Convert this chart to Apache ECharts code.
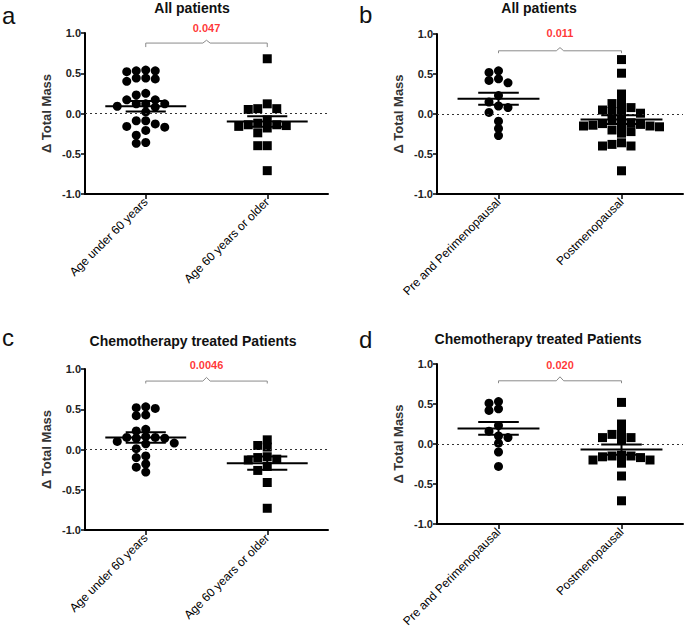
<!DOCTYPE html>
<html><head><meta charset="utf-8">
<script src="https://cdn.jsdelivr.net/npm/echarts@6/dist/echarts.min.js"></script>
<style>html,body{margin:0;padding:0;background:#fff}#c{width:685px;height:643px}</style>
</head><body><div id="c"></div>
<script>
// ---------- data ----------
const panelLetters = ['a', 'b', 'c', 'd'];
const panelTitles = ['All patients', 'All patients', 'Chemotherapy treated Patients', 'Chemotherapy treated Patients'];
const ageCategories = ['Age under 60 years', 'Age 60 years or older'];
const menoCategories = ['Pre and Perimenopausal', 'Postmenopausal'];
const pValues = ['0.047', '0.011', '0.0046', '0.020'];
const yTicks = [-1.0, -0.5, 0.0, 0.5, 1.0];

const aUnder60 = [0.54, 0.53, 0.53, 0.52, 0.44, 0.44, 0.43, 0.40, 0.25, 0.23, 0.17, 0.17, 0.12, 0.12, 0.12, 0.09, 0.08, 0.02, -0.09, -0.09, -0.13, -0.16, -0.17, -0.21, -0.27, -0.36, -0.37];
const aOver60 = [0.68, 0.12, 0.06, 0.06, 0.05, -0.08, -0.12, -0.14, -0.14, -0.15, -0.16, -0.18, -0.24, -0.40, -0.40, -0.71];
const bPre = [0.54, 0.52, 0.44, 0.42, 0.39, 0.23, 0.15, 0.10, 0.08, 0.02, -0.09, -0.18, -0.27];
const bPost = [0.68, 0.51, 0.25, 0.15, 0.13, 0.08, 0.05, 0.05, 0.03, 0.01, -0.05, -0.08, -0.11, -0.12, -0.13, -0.14, -0.14, -0.15, -0.15, -0.16, -0.20, -0.22, -0.24, -0.36, -0.38, -0.40, -0.40, -0.71];
const cUnder60 = [0.53, 0.52, 0.51, 0.43, 0.42, 0.25, 0.23, 0.16, 0.15, 0.15, 0.14, 0.14, 0.10, 0.08, 0.07, 0.01, -0.08, -0.10, -0.18, -0.22, -0.28];
const cOver60 = [0.12, 0.05, 0.03, -0.09, -0.10, -0.12, -0.13, -0.21, -0.26, -0.41, -0.73];
const dPre = [0.53, 0.51, 0.44, 0.42, 0.23, 0.16, 0.10, 0.08, 0.01, -0.10, -0.28];
const dPost = [0.52, 0.25, 0.15, 0.12, 0.08, 0.08, 0.05, -0.14, -0.15, -0.15, -0.16, -0.17, -0.20, -0.20, -0.24, -0.40, -0.71];

// mean and SEM: [group1, group2]
const meansA = [0.09, -0.10], semsA = [0.065, 0.065];
const meansB = [0.19, -0.07], semsB = [0.075, 0.055];
const meansC = [0.15, -0.17], semsC = [0.065, 0.083];
const meansD = [0.195, -0.07], semsD = [0.08, 0.065];

// ---------- layout (not data) ----------
const panels = [
  { groups: [aUnder60, aOver60], cats: ageCategories, means: meansA, sems: semsA,
    grid: { left: 85, top: 33, width: 243, height: 161 },
    letter: [2, 15], title: [192, 8], bracket: [0.875, 0.825, 0.91], pText: 1.065 },
  { groups: [bPre, bPost], cats: menoCategories, means: meansB, sems: semsB,
    grid: { left: 437, top: 34, width: 246, height: 160 },
    letter: [359, 14], title: [539, 8], bracket: [0.79, 0.76, 0.83], pText: 1.01 },
  { groups: [cUnder60, cOver60], cats: ageCategories, means: meansC, sems: semsC,
    grid: { left: 85, top: 369, width: 243, height: 161 },
    letter: [2, 337], title: [193, 341], bracket: [0.85, 0.82, 0.895], pText: 1.05 },
  { groups: [dPre, dPost], cats: menoCategories, means: meansD, sems: semsD,
    grid: { left: 437, top: 364, width: 246, height: 160 },
    letter: [359, 339], title: [538, 339], bracket: [0.79, 0.76, 0.84], pText: 0.99 }
];

const GROUP_X = [0.5, 1.5];
const DOT = 9;

// deterministic beeswarm layout in pixel space -> x offsets in axis units
function swarm(values, pxY, pxX) {
  const order = values.map((v, i) => i).sort((a, b) => values[b] - values[a]);
  const placed = [];
  const offs = new Array(values.length);
  const step = 9.5, minD = 7;
  for (const i of order) {
    const py = values[i] * pxY;
    for (let k = 0; k < 40; k++) {
      const n = Math.ceil(k / 2);
      const ox = (k === 0 ? 0 : (k % 2 ? -n : n)) * step;
      let ok = true;
      for (const p of placed) {
        if (Math.hypot(p[0] - ox, p[1] - py) < minD) { ok = false; break; }
      }
      if (ok) { placed.push([ox, py]); offs[i] = ox / pxX; break; }
    }
  }
  return offs;
}

const grids = [], xAxes = [], yAxes = [], series = [], graphics = [];
const font = 'Arial, "Liberation Sans", Helvetica, sans-serif';

panels.forEach((P, pi) => {
  grids.push(Object.assign({ containLabel: false }, P.grid));
  const cats = P.cats;
  xAxes.push({
    type: 'value', gridIndex: pi, min: 0, max: 2,
    axisLine: { show: true, onZero: false, lineStyle: { color: '#000', width: 2 } },
    axisTick: { show: true, customValues: GROUP_X, length: 5, lineStyle: { color: '#000', width: 1.5 } },
    axisLabel: { show: true, customValues: GROUP_X, rotate: 45, margin: 6, fontSize: 12, color: '#000', fontFamily: font,
      formatter: v => cats[Math.round(v - 0.5)] },
    splitLine: { show: false }
  });
  yAxes.push({
    type: 'value', gridIndex: pi, min: -1, max: 1, interval: 0.5,
    name: 'Δ Total Mass', nameLocation: 'middle', nameGap: 32,
    nameTextStyle: { fontSize: 13, fontWeight: 'bold', color: '#333', fontFamily: font },
    axisLine: { show: true, onZero: false, lineStyle: { color: '#000', width: 2 } },
    axisTick: { show: true, length: 4, lineStyle: { color: '#000', width: 1.5 } },
    axisLabel: { fontSize: 11, fontWeight: 'bold', color: '#222', margin: 4, fontFamily: font,
      formatter: v => yTicks.includes(v) ? v.toFixed(1) : '' },
    splitLine: { show: false }
  });
  const pxY = P.grid.height / 2, pxX = P.grid.width / 2;
  P.groups.forEach((vals, gi) => {
    const offs = swarm(vals, pxY, pxX);
    series.push({
      type: 'scatter', xAxisIndex: pi, yAxisIndex: pi,
      symbol: gi === 0 ? 'circle' : 'rect', symbolSize: DOT,
      itemStyle: { color: '#000', opacity: 1 }, silent: true, z: 3,
      data: vals.map((v, i) => [GROUP_X[gi] + offs[i], v]),
      markLine: gi === 0 ? {
        silent: true, symbol: ['none', 'none'], label: { show: false },
        lineStyle: { type: [2, 3], color: '#333', width: 1 },
        data: [{ yAxis: 0 }]
      } : undefined
    });
  });
  // mean ± SEM
  series.push({
    type: 'custom', xAxisIndex: pi, yAxisIndex: pi, z: 5, silent: true,
    data: GROUP_X.map((x, gi) => [x, P.means[gi], P.sems[gi]]),
    renderItem: (params, api) => {
      const x = api.value(0), m = api.value(1), s = api.value(2);
      const c = api.coord([x, m]), t = api.coord([x, m + s]), b = api.coord([x, m - s]);
      const hm = api.size([0.333, 0])[0], hs = api.size([0.165, 0])[0];
      const st = { stroke: '#000', lineWidth: 2 };
      return { type: 'group', children: [
        { type: 'line', shape: { x1: c[0] - hm, y1: c[1], x2: c[0] + hm, y2: c[1] }, style: st },
        { type: 'line', shape: { x1: c[0] - hs, y1: t[1], x2: c[0] + hs, y2: t[1] }, style: st },
        { type: 'line', shape: { x1: c[0] - hs, y1: b[1], x2: c[0] + hs, y2: b[1] }, style: st },
        { type: 'line', shape: { x1: c[0], y1: t[1], x2: c[0], y2: b[1] }, style: st }
      ] };
    }
  });
  // significance bracket
  const [yl, ye, yp] = P.bracket;
  const mid = (GROUP_X[0] + GROUP_X[1]) / 2;
  series.push({
    type: 'line', xAxisIndex: pi, yAxisIndex: pi, silent: true, symbol: 'none', clip: false, z: 4,
    lineStyle: { color: '#8a8a8a', width: 1 },
    data: [[GROUP_X[0], ye], [GROUP_X[0], yl], [mid - 0.03, yl], [mid, yp], [mid + 0.03, yl], [GROUP_X[1], yl], [GROUP_X[1], ye]]
  });
  series.push({
    type: 'scatter', xAxisIndex: pi, yAxisIndex: pi, silent: true, symbolSize: 0, clip: false,
    data: [[mid, P.pText]],
    label: { show: true, position: 'inside', formatter: pValues[pi], color: '#ff0000', fontSize: 11, fontWeight: 'bold', fontFamily: font }
  });
  graphics.push({
    type: 'text', x: P.letter[0], y: P.letter[1],
    style: { text: panelLetters[pi], fontSize: 24, fontFamily: font, fill: '#111', verticalAlign: 'middle', align: 'left' }
  });
  graphics.push({
    type: 'text', x: P.title[0], y: P.title[1],
    style: { text: panelTitles[pi], fontSize: 14, fontWeight: 'bold', fontFamily: font, fill: '#111', verticalAlign: 'middle', align: 'center' }
  });
});

const chart = echarts.init(document.getElementById('c'), null, { renderer: 'svg' });
chart.setOption({
  animation: false,
  backgroundColor: '#fff',
  grid: grids, xAxis: xAxes, yAxis: yAxes, series: series, graphic: graphics
});
</script>
</body></html>
